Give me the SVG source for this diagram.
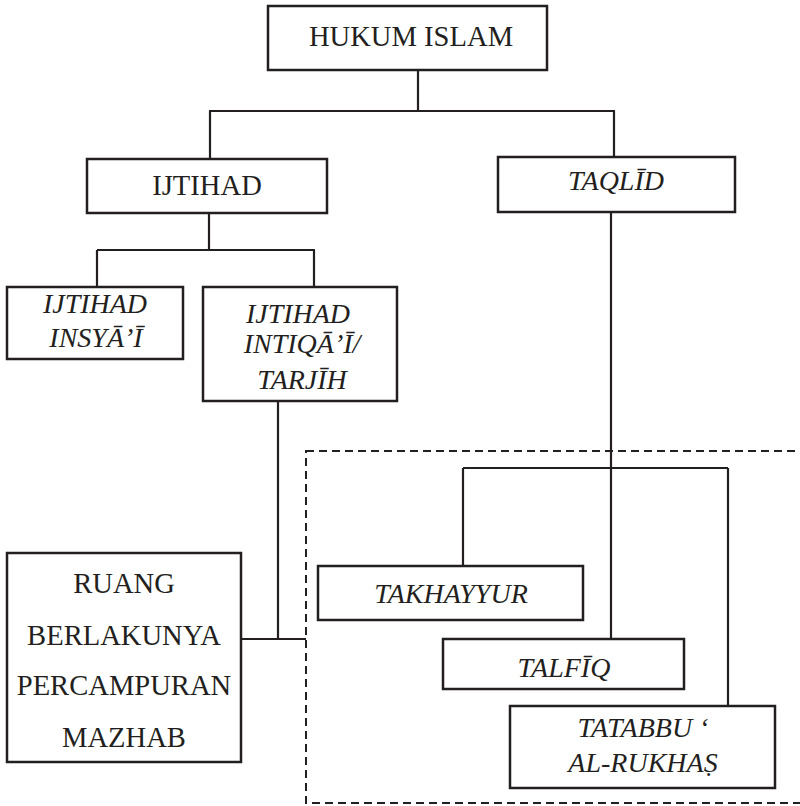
<svg xmlns="http://www.w3.org/2000/svg" width="800" height="806" viewBox="0 0 800 806">
<style>
  .box { fill: #ffffff; stroke: #231f20; stroke-width: 2.5; }
  .ln { fill: none; stroke: #231f20; stroke-width: 2.2; }
  .dash { fill: none; stroke: #231f20; stroke-width: 2; stroke-dasharray: 8 5; }
  .t { font-family: "Liberation Serif", "Times New Roman", serif; font-size: 28.6px; fill: #231f20; text-anchor: middle; }
  .ti { font-family: "Liberation Serif", "Times New Roman", serif; font-size: 28px; font-style: italic; fill: #231f20; text-anchor: middle; }
</style>
<rect width="800" height="806" fill="#ffffff"/>
<g id="region">
  <rect class="dash" x="306" y="451" width="520" height="352"/>
</g>
<g id="connectors">
  <path class="ln" d="M418 70 V111 M209 111 H615 M210 111 V159 M614 111 V157"/>
  <path class="ln" d="M209 213 V250 M97 250 H315 M97 250 V287 M314 250 V287"/>
  <path class="ln" d="M278 401 V639 M242 639 H306"/>
  <path class="ln" d="M611 212 V639 M463 468 H728 M463 468 V566 M728 468 V706"/>
</g>
<g id="hukum-islam">
  <rect class="box" x="268" y="6" width="279" height="64"/>
  <text class="t" x="411" y="46">HUKUM ISLAM</text>
</g>
<g id="ijtihad">
  <rect class="box" x="87" y="159" width="240" height="54"/>
  <text class="t" x="207" y="195">IJTIHAD</text>
</g>
<g id="taqlid">
  <rect class="box" x="498" y="157" width="237" height="55"/>
  <text class="ti" x="616" y="190">TAQLĪD</text>
</g>
<g id="ijtihad-insyai">
  <rect class="box" x="7" y="287" width="176" height="72"/>
  <text class="ti" x="95" y="313">IJTIHAD</text>
  <text class="ti" x="96" y="347">INSYĀ’Ī</text>
</g>
<g id="ijtihad-intiqai">
  <rect class="box" x="203" y="287" width="194" height="114"/>
  <text class="ti" x="298" y="323">IJTIHAD</text>
  <text class="ti" x="302" y="353">INTIQĀ’Ī/</text>
  <text class="ti" x="302" y="389">TARJĪH</text>
</g>
<g id="ruang">
  <rect class="box" x="7" y="553" width="234" height="209"/>
  <text class="t" x="124" y="593">RUANG</text>
  <text class="t" x="124" y="645">BERLAKUNYA</text>
  <text class="t" x="124" y="695">PERCAMPURAN</text>
  <text class="t" x="124" y="747">MAZHAB</text>
</g>
<g id="takhayyur">
  <rect class="box" x="318" y="566" width="265" height="54"/>
  <text class="ti" x="451" y="603">TAKHAYYUR</text>
</g>
<g id="talfiq">
  <rect class="box" x="443" y="639" width="241" height="50"/>
  <text class="ti" x="564" y="677">TALFĪQ</text>
</g>
<g id="tatabbu">
  <rect class="box" x="510" y="706" width="265" height="82"/>
  <text class="ti" x="643" y="737">TATABBU ‘</text>
  <text class="ti" x="643" y="772">AL-RUKHAṢ</text>
</g>
</svg>
